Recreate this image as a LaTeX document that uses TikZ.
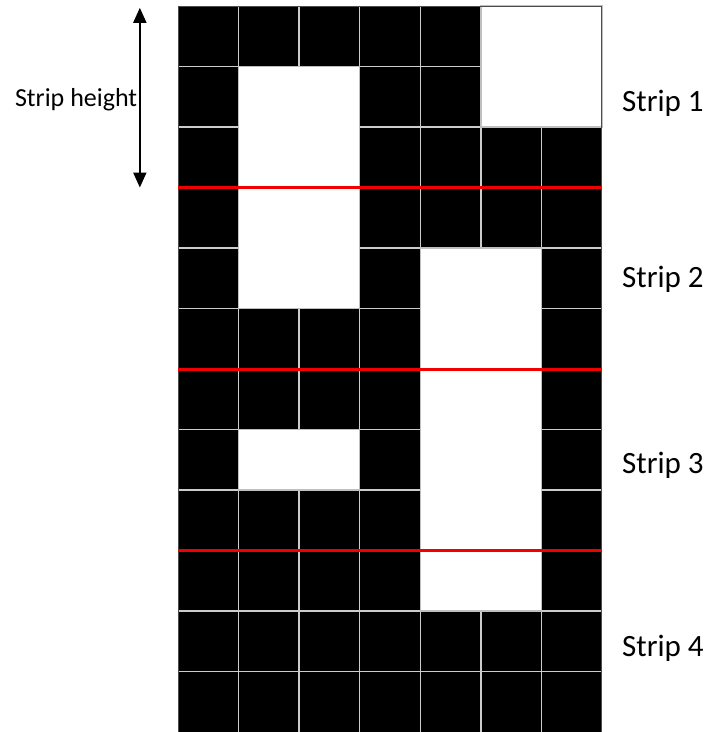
\documentclass[tikz,border=0pt]{standalone}
\usepackage{fontspec}
\setmainfont{Carlito}
\usetikzlibrary{arrows.meta}

\begin{document}
\begin{tikzpicture}[x=1pt,y=-1pt,>={Triangle[length=15pt,width=13pt]},
  gridline/.style={draw=gray!40,line width=1.3pt},
  hole/.style={fill=white,draw=gray!50,line width=1.3pt},
  frame/.style={draw=black!70,line width=1pt},
  stripline/.style={draw=red!95!black,line width=3pt},
  striplabel/.style={font=\fontsize{31}{36}\selectfont,anchor=base west,inner sep=0pt}]
\useasboundingbox (0,0) rectangle (707,732);
\begin{scope}[xshift=178pt,yshift=-6pt,x=60.57pt,y=-60.5pt]
% black image, 7 columns by 12 rows
\fill[black] (0,0) rectangle (7,12);
\foreach \i in {1,...,6}
  \draw[gridline] (\i,0) -- (\i,12);
\foreach \j in {1,...,11}
  \draw[gridline] (0,\j) -- (7,\j);
% white regions
\foreach \a/\b/\c/\d in {5/0/7/2, 1/1/3/5, 4/4/6/10, 1/7/3/8}
  \filldraw[hole] (\a,\b) rectangle (\c,\d);
\draw[frame] (0,0) rectangle (7,12);
% strip borders
\foreach \r in {3,6,9}
  \draw[stripline] (0,\r) -- (7,\r);
\node[striplabel] (s1) at (7.33,1.75) {Strip 1};
\node[striplabel] (s2) at (7.33,4.66) {Strip 2};
\node[striplabel] (s3) at (7.33,7.72) {Strip 3};
\node[striplabel] (s4) at (7.33,10.76) {Strip 4};
% strip height
\coordinate (htop) at (-0.63,0.03);
\coordinate (hbot) at (-0.63,3.0);
\draw[<->,line width=2pt] (htop) -- (hbot);
\node[font=\fontsize{26}{31}\selectfont,anchor=base east,inner sep=0pt] (hlab) at (-0.67,1.66) {Strip height};
\end{scope}
\end{tikzpicture}
\end{document}
